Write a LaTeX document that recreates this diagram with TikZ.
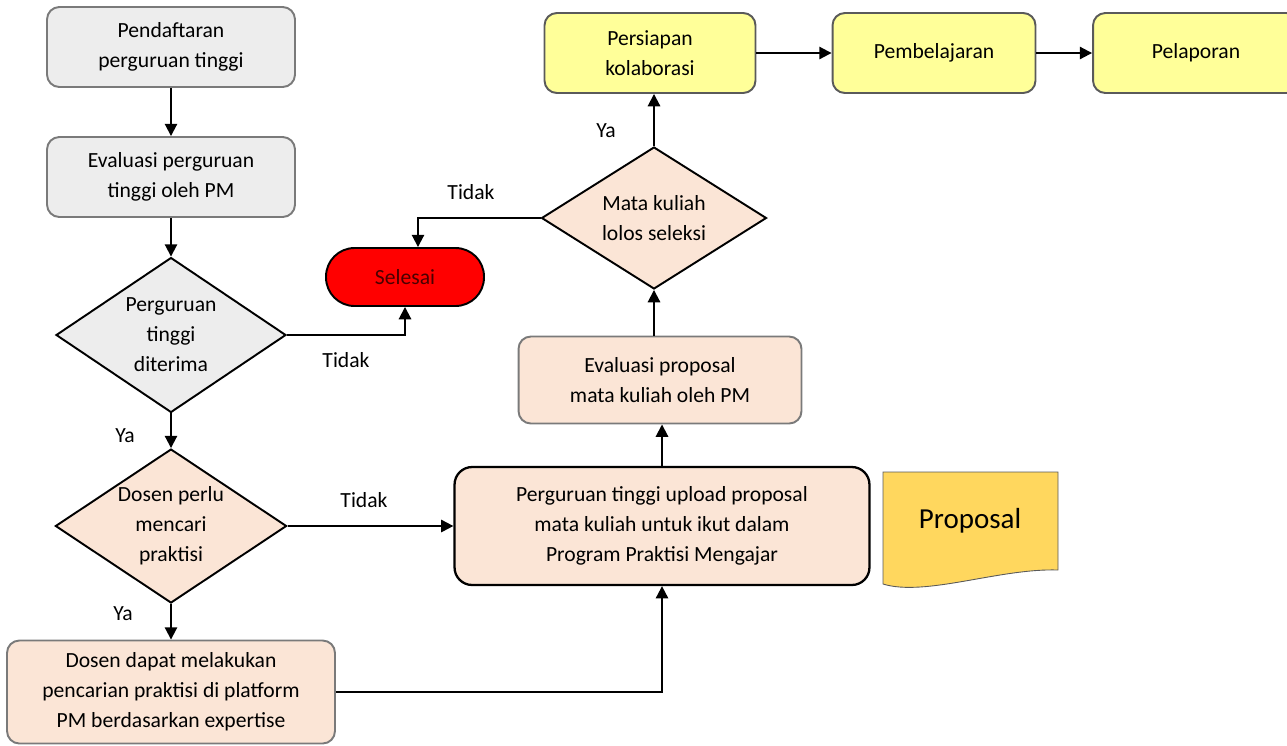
\documentclass[tikz,border=0pt]{standalone}
\usepackage{fontspec}
\setmainfont{Carlito}
\usetikzlibrary{shapes.geometric,arrows.meta}

\definecolor{boxgrey}{HTML}{EDEDED}
\definecolor{edgegrey}{HTML}{7A7A7A}
\definecolor{peach}{HTML}{FBE5D6}
\definecolor{paleyellow}{HTML}{FFFF99}
\definecolor{yellowedge}{HTML}{5A5A5A}
\definecolor{docgold}{HTML}{FFD75E}
\definecolor{selred}{HTML}{FF0000}
\definecolor{seltext}{HTML}{4A0000}

\tikzset{
  proc/.style={rectangle, rounded corners=7pt, draw=edgegrey, line width=1.1pt,
    align=center, inner sep=2pt, font=\fontsize{12.3}{17}\selectfont},
  graybox/.style={proc, fill=boxgrey},
  peachbox/.style={proc, fill=peach},
  yellowbox/.style={proc, fill=paleyellow, draw=yellowedge},
  decision/.style={diamond, aspect=1.6, draw=black, line width=1.1pt, align=center,
    inner sep=0pt, font=\fontsize{12.3}{17}\selectfont},
  arr/.style={-{Triangle[length=7pt,width=7pt]}, line width=1.1pt},
  lbl/.style={inner sep=0pt, font=\fontsize{12.3}{14}\selectfont}
}

\begin{document}
\begin{tikzpicture}[x=0.02cm,y=-0.02cm]
\useasboundingbox (0,0) rectangle (1287,745);
% left column
\draw (171,47) node[graybox,minimum width=4.96cm,minimum height=1.6cm] (pendaftaran) {Pendaftaran\\perguruan tinggi};
\draw (171,177) node[graybox,minimum width=4.96cm,minimum height=1.6cm] (evalpt) {Evaluasi perguruan\\tinggi oleh PM};
\draw (171,335) node[decision,fill=boxgrey,minimum width=4.6cm,minimum height=3.1cm] (diterima) {Perguruan\\tinggi\\diterima};
\draw (171,526) node[decision,fill=peach,minimum width=4.56cm,minimum height=3.08cm] (perlu) {Dosen perlu\\mencari\\praktisi};
\draw (171,692) node[peachbox,minimum width=6.56cm,minimum height=2.06cm] (pencarian) {Dosen dapat melakukan\\pencarian praktisi di platform\\PM berdasarkan expertise};
% middle
\draw (405,277) node[rectangle,rounded corners=0.57cm,draw=black,line width=1.1pt,fill=selred,text=seltext,
  minimum width=3.16cm,minimum height=1.16cm,font=\fontsize{12.3}{14}\selectfont] (selesai) {Selesai};
\draw (662,526) node[peachbox,draw=black,line width=1.3pt,rounded corners=10pt,minimum width=8.3cm,minimum height=2.36cm] (upload) {Perguruan tinggi upload proposal\\mata kuliah untuk ikut dalam\\Program Praktisi Mengajar};
\draw (660,380) node[peachbox,minimum width=5.66cm,minimum height=1.74cm] (evalprop) {Evaluasi proposal\\mata kuliah oleh PM};
\draw (654,218) node[decision,fill=peach,minimum width=4.5cm,minimum height=2.84cm] (lolos) {Mata kuliah\\lolos seleksi};
% top row
\draw (650,53) node[yellowbox,minimum width=4.22cm,minimum height=1.6cm] (persiapan) {Persiapan\\kolaborasi};
\draw (934,53) node[yellowbox,minimum width=4.06cm,minimum height=1.6cm] (pembelajaran) {Pembelajaran};
\draw (1196,53) node[yellowbox,minimum width=4.12cm,minimum height=1.6cm] (pelaporan) {Pelaporan};
% document
\draw[fill=docgold,draw=yellowedge,line width=0.5pt] (883,472) -- (1058,472) -- (1058,570)
  .. controls (1000,568) and (925,597) .. (883,584) -- cycle;
\draw (970,521) node[inner sep=0pt,font=\fontsize{16.5}{18}\selectfont] (proposal) {Proposal};
% connectors
\draw[arr] (pendaftaran) -- (evalpt);
\draw[arr] (evalpt) -- (diterima);
\draw[arr] (diterima) -- (perlu);
\draw[arr] (perlu) -- (pencarian);
\draw[arr] (diterima.east) -| (selesai.south);
\draw[arr] (perlu.east) -- (upload.west);
\draw[arr] (pencarian.east) -| (upload.south);
\draw[arr] (upload.north) -- (upload.north |- evalprop.south);
\draw[arr] (lolos.south |- evalprop.north) -- (lolos.south);
\draw[arr] (lolos.west) -| ([xshift=0.26cm]selesai.north);
\draw[arr] (lolos.north) -- (lolos.north |- persiapan.south);
\draw[arr] (persiapan) -- (pembelajaran);
\draw[arr] (pembelajaran) -- (pelaporan);
% labels
\draw (125,436) node[lbl] (ya1) {Ya};
\draw (123,614) node[lbl] (ya2) {Ya};
\draw (606,131) node[lbl] (ya3) {Ya};
\draw (346,360) node[lbl] (tidak1) {Tidak};
\draw (364,500) node[lbl] (tidak2) {Tidak};
\draw (471,192) node[lbl] (tidak3) {Tidak};
\end{tikzpicture}
\end{document}
